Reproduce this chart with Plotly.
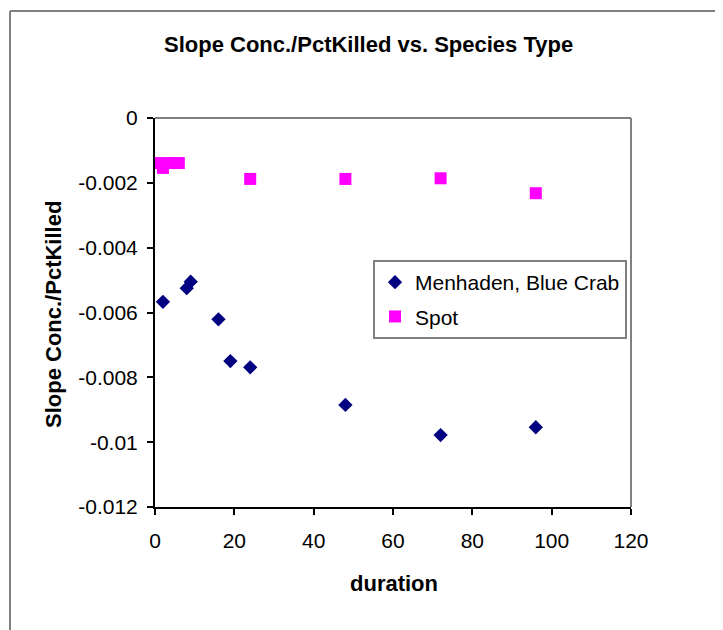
import plotly.graph_objects as go

# ---- data ----
menhaden_duration = [2, 8, 9, 16, 19, 24, 48, 72, 96]
menhaden_slope = [-0.00567, -0.00525, -0.00505, -0.00621, -0.00750, -0.00769, -0.00885, -0.00978, -0.00954]

spot_duration = [1, 2, 4, 6, 24, 48, 72, 96]
spot_slope = [-0.00139, -0.00154, -0.00139, -0.00139, -0.00188, -0.00188, -0.00186, -0.00232]

x_tickvals = [0, 20, 40, 60, 80, 100, 120]
x_ticktext = ["0", "20", "40", "60", "80", "100", "120"]
y_tickvals = [0, -0.002, -0.004, -0.006, -0.008, -0.01, -0.012]
y_ticktext = ["0", "-0.002", "-0.004", "-0.006", "-0.008", "-0.01", "-0.012"]

title_text = "Slope Conc./PctKilled vs. Species Type"
x_title = "duration"
y_title = "Slope Conc./PctKilled"

FONT = "Liberation Sans, Arial, sans-serif"

OFF = 8  # page body margin
W, H = 723 - OFF, 630 - OFF
L, R, T, B = 155 - OFF, 631 - OFF, 118 - OFF, 507 - OFF  # plot area in figure pixels


def px(x):
    return (x - OFF - L) / (R - L)


def py(y):
    return 1 - (y - OFF - T) / (B - T)


fig = go.Figure()
fig.add_trace(go.Scatter(
    x=menhaden_duration, y=menhaden_slope, mode="markers",
    name="Menhaden, Blue Crab", legendgroup="a",
    marker=dict(symbol="diamond", size=11, color="#000080", line=dict(width=0)),
))
fig.add_trace(go.Scatter(
    x=spot_duration, y=spot_slope, mode="markers",
    name="Spot", legendgroup="b",
    marker=dict(symbol="square", size=12, color="#FF00FF", line=dict(width=0)),
))

gray = "#808080"
shapes = [
    dict(type="line", xref="paper", yref="paper", x0=0, x1=1, y0=1, y1=1,
         line=dict(color=gray, width=2)),
    dict(type="line", xref="paper", yref="paper", x0=1, x1=1, y0=0, y1=1,
         line=dict(color=gray, width=2)),
    dict(type="line", xref="paper", yref="paper", x0=px(10), x1=px(10), y0=py(11), y1=py(640),
         line=dict(color=gray, width=2)),
    dict(type="line", xref="paper", yref="paper", x0=px(10), x1=px(730), y0=py(11), y1=py(11),
         line=dict(color=gray, width=2)),
]

annotations = [
    dict(text="<b>" + title_text + "</b>", xref="paper", yref="paper",
         x=px(368), y=py(44), xanchor="center", yanchor="middle", showarrow=False,
         font=dict(family=FONT, size=22, color="black")),
    dict(text="<b>" + x_title + "</b>", xref="paper", yref="paper",
         x=px(394), y=py(583), xanchor="center", yanchor="middle", showarrow=False,
         font=dict(family=FONT, size=22, color="black")),
    dict(text="<b>" + y_title + "</b>", xref="paper", yref="paper",
         x=px(53), y=py(315), xanchor="center", yanchor="middle", showarrow=False,
         textangle=-90, font=dict(family=FONT, size=22, color="black")),
]

fig.update_layout(
    width=W, height=H,
    margin=dict(l=L, r=W - R, t=T, b=H - B, pad=0),
    paper_bgcolor="white", plot_bgcolor="white",
    font=dict(family=FONT, size=21, color="black"),
    showlegend=True,
    legend=dict(
        x=px(373), y=py(260), xanchor="left", yanchor="top",
        bgcolor="white", bordercolor=gray, borderwidth=2,
        font=dict(family=FONT, size=21, color="black"),
        traceorder="grouped", tracegroupgap=4,
    ),
    shapes=shapes,
    annotations=annotations,
    xaxis=dict(
        range=[0, 120], tickvals=x_tickvals, ticktext=x_ticktext,
        showgrid=False, zeroline=False, showline=True, linecolor="black", linewidth=2,
        ticks="outside", ticklen=6, tickwidth=1.5, tickcolor="black",
        ticklabelstandoff=8,
    ),
    yaxis=dict(
        range=[-0.012, 0], tickvals=y_tickvals, ticktext=y_ticktext,
        showgrid=False, zeroline=False, showline=True, linecolor="black", linewidth=2,
        ticks="outside", ticklen=6, tickwidth=1.5, tickcolor="black",
        ticklabelstandoff=5,
    ),
)

fig.write_html("out.html")
